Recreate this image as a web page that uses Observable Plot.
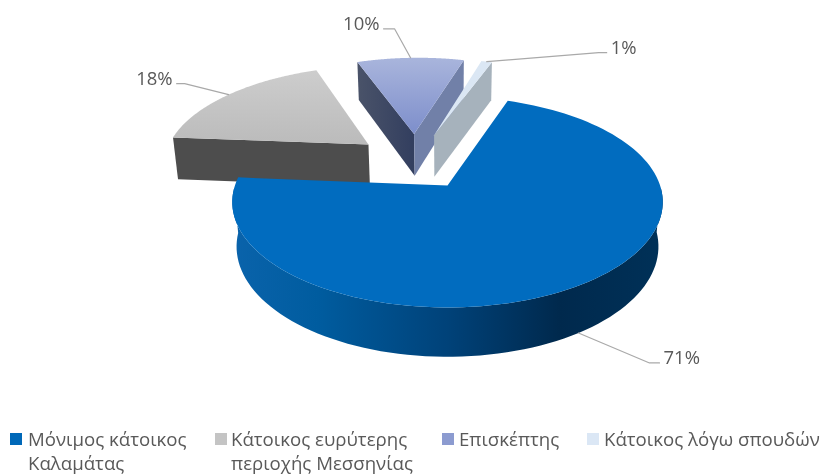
<!DOCTYPE html>
<html>
<head>
<meta charset="utf-8">
<style>
  html, body { margin: 0; padding: 0; background: #fff; }
  #chart { position: relative; width: 824px; height: 475px; overflow: hidden; }
  #chart svg { display: block; filter: blur(0.45px); }
  .legend-item { position: absolute; top: 427px; font: 18.65px/24px "Open Sans", sans-serif; color: #595959; white-space: pre-line; filter: blur(0.3px); }
  .legend-item i { position: absolute; left: 0; top: 6px; width: 12px; height: 12px; }
  .legend-item span { display: block; }
</style>
<script src="https://cdn.jsdelivr.net/npm/d3@7"></script>
<script src="https://cdn.jsdelivr.net/npm/@observablehq/plot@0.6"></script>
</head>
<body>
<div id="chart"></div>
<script>
// Data
const categories = ["Μόνιμος κάτοικος\nΚαλαμάτας", "Κάτοικος ευρύτερης\nπεριοχής Μεσσηνίας", "Επισκέπτης", "Κάτοικος λόγω σπουδών"];
const shares = [71, 18, 10, 1];
const shareLabels = ["71%", "18%", "10%", "1%"];
const legendColors = ["#0068b8", "#c4c4c4", "#8c9bd0", "#dbe7f5"];

// Styles
const topFills = ["#016cbf", "url(#topGray)", "url(#topViolet)", "#dbe7f4"];
const wallFills = [["none", "none"], ["#4d4d4d", "none"], ["url(#wallViolet)", "#7180a8"], ["none", "#a6b2bc"]];
const rimFills = ["url(#rimBlue)", "none", "none", "none"];

// Camera and layout
const cam = {x0: 447, y0: 185, rx: 212.6, ry: 102.8, persp: 0.157, depth: 45, shrink: 0.02};
const startDeg = 19;
const explode = 0.3;
const center = {u: -0.157, v: 0.244};
const explodes = [0, explode, explode, explode];
const labelElbow = [[71, 30], [-44, -11], [-16, -29], [112, -9]];
const labelEnd = [[81, 30], [-52, -11], [-27, -29], [120, -9]];
const labelAnchor = ["start", "end", "end", "start"];
const legendLeft = [10, 215, 442, 587];
const legendIndent = [18, 16, 17, 17];

const W = 824, H = 425;
const TAU = Math.PI * 2;

const pie = d3.pie().sort(null).startAngle(startDeg * Math.PI / 180).endAngle(startDeg * Math.PI / 180 + TAU);
const arcs = pie(shares);

function project(u, v, low) {
  const d = 1 + cam.persp * v + (low ? cam.shrink : 0);
  return {
    x: cam.x0 + cam.rx * u / d,
    y: cam.y0 + (-cam.ry * v + (low ? cam.depth : 0)) / d
  };
}

const slices = arcs.map((a, i) => {
  const mid = (a.startAngle + a.endAngle) / 2;
  // The first slice is the reference point of the camera: its apex sits at the origin.
  const apex = i === 0
    ? {u: 0, v: 0}
    : {u: center.u + explodes[i] * Math.sin(mid), v: center.v + explodes[i] * Math.cos(mid)};
  const at = t => ({u: apex.u + Math.sin(t), v: apex.v + Math.cos(t)});
  const angles = d3.range(0, 121).map(k => a.startAngle + (a.endAngle - a.startAngle) * k / 120);
  return {i, a, mid, apex, at, angles};
});

const marks = [];
marks.push(() => {
  const defs = d3.create("svg:defs");
  const grad = (id, stops, vertical) => {
    const g = defs.append("linearGradient").attr("id", id)
      .attr("x1", 0).attr("y1", 0).attr("x2", vertical ? 0 : 1).attr("y2", vertical ? 1 : 0);
    stops.forEach(([o, c]) => g.append("stop").attr("offset", o).attr("stop-color", c));
  };
  grad("rimBlue", [[0, "#0a63ab"], [0.2, "#005c9f"], [0.5, "#004279"], [0.76, "#00294d"], [1, "#003158"]]);
  grad("topGray", [[0, "#cdcdcd"], [1, "#bbbbbb"]], true);
  grad("topViolet", [[0, "#a9b5dc"], [1, "#7d8ecb"]], true);
  grad("wallViolet", [[0, "#4a5369"], [1, "#323e5f"]]);
  return defs.node();
});

const face = (pts, fill) => {
  if (fill !== "none" && pts.length) {
    marks.push(Plot.line(pts, {x: "x", y: "y", fill, stroke: "none", curve: "linear"}));
  }
};

// Painter's order: the exploded back slices first, the large front slice last
[1, 2, 3, 0].forEach(i => {
  const s = slices[i];
  const rimAngles = s.angles.filter(t => Math.cos(t) < 0);
  if (rimAngles.length) {
    const up = rimAngles.map(t => { const p = s.at(t); return project(p.u, p.v, false); });
    const low = rimAngles.map(t => { const p = s.at(t); return project(p.u, p.v, true); }).reverse();
    face([...up, ...low], rimFills[i]);
  }
  [s.a.startAngle, s.a.endAngle].forEach((t, w) => {
    const p = s.at(t);
    face([
      project(s.apex.u, s.apex.v, false),
      project(p.u, p.v, false),
      project(p.u, p.v, true),
      project(s.apex.u, s.apex.v, true)
    ], wallFills[i][w]);
  });
  const top = [project(s.apex.u, s.apex.v, false), ...s.angles.map(t => { const p = s.at(t); return project(p.u, p.v, false); })];
  face(top, topFills[i]);
});

// Leader lines and percentage labels start from each slice's own rim midpoint
const labelRows = [];
slices.forEach(s => {
  const p = s.at(s.mid);
  const anchor = project(p.u, p.v, s.i === 0);
  const elbow = {x: anchor.x + labelElbow[s.i][0], y: anchor.y + labelElbow[s.i][1]};
  const end = {x: anchor.x + labelEnd[s.i][0], y: anchor.y + labelEnd[s.i][1]};
  marks.push(Plot.line([anchor, elbow, end], {x: "x", y: "y", stroke: "#a9a9a9", strokeWidth: 1.2, curve: "linear"}));
  labelRows.push({x: end.x + (labelAnchor[s.i] === "start" ? 4 : -4), y: end.y - 5, text: shareLabels[s.i], anchor: labelAnchor[s.i]});
});
["start", "end"].forEach(anchor => {
  marks.push(Plot.text(labelRows.filter(d => d.anchor === anchor), {
    x: "x", y: "y", text: "text", textAnchor: anchor,
    fontSize: 18.5, fontFamily: "'Open Sans', sans-serif", fill: "#595959"
  }));
});

const plot = Plot.plot({
  width: W, height: H,
  margin: 0,
  x: {domain: [0, W], range: [0, W], axis: null},
  y: {domain: [0, H], range: [0, H], axis: null},
  style: {background: "#fff"},
  marks
});

const root = document.getElementById("chart");
root.append(plot);

categories.forEach((c, i) => {
  const el = document.createElement("div");
  el.className = "legend-item";
  el.style.left = legendLeft[i] + "px";
  el.style.paddingLeft = legendIndent[i] + "px";
  const sw = document.createElement("i");
  sw.style.background = legendColors[i];
  const t = document.createElement("span");
  t.textContent = c;
  el.append(sw, t);
  root.append(el);
});
</script>
</body>
</html>
